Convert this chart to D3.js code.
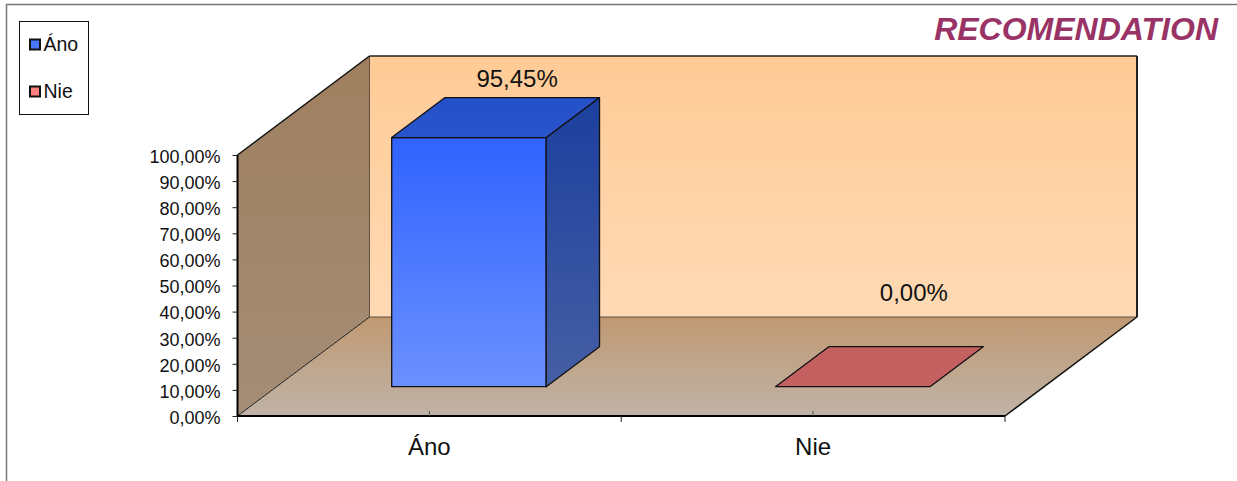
<!DOCTYPE html>
<html><head><meta charset="utf-8">
<script src="https://cdn.jsdelivr.net/npm/d3@7/dist/d3.min.js"></script>
<style>html,body{margin:0;padding:0;background:#fff}svg{display:block}text{font-family:"Liberation Sans",Arial,sans-serif;fill:#111}</style>
</head><body><div id="c"></div>
<script>
const categories = ["Áno","Nie"];
const values = [95.45,0];
const valueLabels = ["95,45%","0,00%"];
const yTicks = [0,10,20,30,40,50,60,70,80,90,100];
const chartTitle = "RECOMENDATION";

const W=1237,H=481;
const svg=d3.select("#c").append("svg").attr("width",W).attr("height",H);
const defs=svg.append("defs");
function grad(id,a,b){
  const g=defs.append("linearGradient").attr("id",id).attr("x1",0).attr("y1",0).attr("x2",0).attr("y2",1);
  g.append("stop").attr("offset",0).attr("stop-color",a);
  g.append("stop").attr("offset",1).attr("stop-color",b);
}
grad("gBack","#FFCB96","#FFDAB5");
grad("gLeft","#9F7F5F","#A48D76");
grad("gFloor","#C09973","#C0B3A6");
grad("gFront","#3063FF","#6B90FF");
grad("gSide","#1C3F9E","#465FA4");
grad("gTop","#2450C8","#2A54CC");

const x=d3.scaleBand().domain(categories).range([237.5,1005]).padding(0);
const y=d3.scaleLinear().domain([0,100]).range([416,155]);
const depthX=d3.scaleLinear().domain([0,1]).range([0,132]);
const depthY=d3.scaleLinear().domain([0,1]).range([0,-99]);
const P=(px,v,d)=>[px+depthX(d),y(v)+depthY(d)];
const poly=pts=>"M"+pts.map(p=>p.join(",")).join("L")+"Z";

// chart frame
svg.append("path").attr("d",`M6.5,${H}V4.5H${W}`).attr("fill","none").attr("stroke","#777").attr("stroke-width",1.5);

const L=x.range()[0],R=x.range()[1];
// walls
svg.append("path").attr("d",poly([P(L,100,1),P(R,100,1),P(R,0,1),P(L,0,1)])).attr("fill","url(#gBack)");
svg.append("path").attr("d",poly([P(L,100,0),P(L,100,1),P(L,0,1),P(L,0,0)])).attr("fill","url(#gLeft)");
svg.append("path").attr("d",poly([P(L,0,0),P(L,0,1),P(R,0,1),P(R,0,0)])).attr("fill","url(#gFloor)");
const edge=(a,b,w,c)=>svg.append("line").attr("x1",a[0]).attr("y1",a[1]).attr("x2",b[0]).attr("y2",b[1]).attr("stroke",c||"#111").attr("stroke-width",w);
edge(P(L,0,1),P(L,100,1),1,"#5f5040");
edge(P(L,0,1),P(R,0,1),1,"#5f5040");
edge(P(L,0,0),P(L,0,1),1,"#222");
edge(P(L,100,0),P(L,100,1),1.5);
edge(P(L,100,1),P(R,100,1),1.5,"#222");
edge(P(R,100,1),P(R,0,1),2,"#222");
edge(P(R,0,0),P(R,0,1),1.5);

// y axis
const yAxis=d3.axisLeft(y).tickValues(yTicks).tickSize(5).tickPadding(12).tickFormat(d=>d3.format(".2f")(d).replace(".",",")+"%");
const ya=svg.append("g").attr("transform",`translate(${L},0)`).call(yAxis);
ya.select(".domain").attr("stroke","#000").attr("stroke-width",2).attr("d",`M0,${y(100)}V${y(0)}`);
ya.selectAll(".tick line").attr("stroke","#222");
ya.selectAll(".tick text").attr("font-size",18).attr("fill","#111").attr("font-family",'"Liberation Sans"').attr("dy","7.3px");

// x axis
edge(P(L,0,0),P(R,0,0),2,"#000");
const edgesX=[L,x(categories[1]),R];
svg.selectAll(".xe").data(edgesX).join("line").attr("x1",d=>d).attr("x2",d=>d).attr("y1",y(0)).attr("y2",y(0)+6).attr("stroke","#222");
svg.selectAll(".xm").data(categories).join("line")
  .attr("x1",d=>x(d)+x.bandwidth()/2).attr("x2",d=>x(d)+x.bandwidth()/2).attr("y1",y(0)-5).attr("y2",y(0)).attr("stroke","#555");
svg.selectAll(".xl").data(categories).join("text").attr("text-anchor","middle")
  .attr("x",d=>x(d)+x.bandwidth()/2).attr("y",455).attr("font-size",24).text(d=>d);

// bars
const barW=154.5,d0=0.296,d1=0.7;
const barNudge=[0.5,0.5];
const cats=categories.map((c,i)=>({c,v:values[i],label:valueLabels[i],i}));
const colors=[{front:"url(#gFront)",side:"url(#gSide)",top:"url(#gTop)"},{front:"#C46060",side:"#A04848",top:"#C46060"}];
const bars=svg.append("g").selectAll("g").data(cats).join("g").attr("stroke","#111").attr("stroke-width",1.3).attr("stroke-linejoin","round");
bars.each(function(d){
  const g=d3.select(this);
  const a=x(d.c)+x.bandwidth()/2-barW/2+barNudge[d.i], b=a+barW;
  if(d.v>0){
    g.append("path").attr("d",poly([P(a,d.v,d0),P(b,d.v,d0),P(b,0,d0),P(a,0,d0)])).attr("fill",colors[d.i].front);
    g.append("path").attr("d",poly([P(b,d.v,d0),P(b,d.v,d1),P(b,0,d1),P(b,0,d0)])).attr("fill",colors[d.i].side);
  }
  g.append("path").attr("d",poly([P(a,d.v,d0),P(a,d.v,d1),P(b,d.v,d1),P(b,d.v,d0)])).attr("fill",colors[d.i].top);
});

// value labels
const labelShift=[[22,-11],[35,-46]];
svg.selectAll(".vl").data(cats).join("text").attr("text-anchor","middle").attr("font-size",24)
  .attr("x",d=>P(x(d.c)+x.bandwidth()/2,d.v,(d0+d1)/2)[0]+labelShift[d.i][0])
  .attr("y",d=>P(0,d.v,d1)[1]+labelShift[d.i][1])
  .text(d=>d.label);

// title
svg.append("text").attr("x",1218).attr("y",40).attr("text-anchor","end").attr("font-size",32).attr("font-weight","bold").attr("font-style","italic").style("fill","#993366").text(chartTitle);

// legend
const lg=svg.append("g");
lg.append("rect").attr("x",19.5).attr("y",21.5).attr("width",69).attr("height",93).attr("fill","#fff").attr("stroke","#111");
const lgY=d3.scalePoint().domain(categories).range([44.5,91.5]);
const swatch=["#4A76FF","#FF8080"];
lg.selectAll("rect.s").data(categories).join("rect").attr("class","s").attr("x",30).attr("y",d=>lgY(d)-5).attr("width",10).attr("height",10)
  .attr("fill",(d,i)=>swatch[i]).attr("stroke","#111").attr("stroke-width",2);
lg.selectAll("text").data(categories).join("text").attr("x",43.5).attr("y",d=>lgY(d)+6).attr("font-size",19.5).text(d=>d);
</script></body></html>
